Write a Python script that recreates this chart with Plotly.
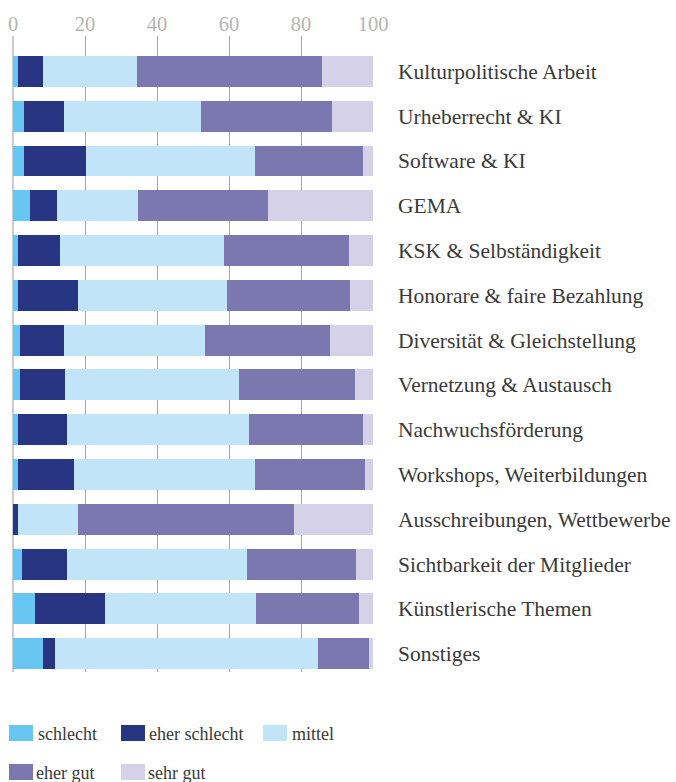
import plotly.graph_objects as go

categories = [
    "Kulturpolitische Arbeit", "Urheberrecht & KI", "Software & KI", "GEMA",
    "KSK & Selbständigkeit", "Honorare & faire Bezahlung", "Diversität & Gleichstellung",
    "Vernetzung & Austausch", "Nachwuchsförderung", "Workshops, Weiterbildungen",
    "Ausschreibungen, Wettbewerbe", "Sichtbarkeit der Mitglieder",
    "Künstlerische Themen", "Sonstiges",
]
schlecht = [1.4, 3.1, 3.1, 4.8, 1.5, 1.5, 2.0, 2.0, 1.5, 1.5, 0.0, 2.6, 6.2, 8.4]
eher_schlecht = [7.0, 11.1, 17.2, 7.5, 11.6, 16.6, 12.2, 12.5, 13.6, 15.5, 1.5, 12.5, 19.4, 3.3]
mittel = [26.1, 38.0, 46.9, 22.5, 45.5, 41.3, 39.1, 48.2, 50.5, 50.2, 16.6, 49.9, 41.9, 72.9]
eher_gut = [51.3, 36.3, 29.9, 36.0, 34.7, 34.1, 34.7, 32.4, 31.6, 30.5, 59.9, 30.2, 28.6, 14.4]
sehr_gut = [14.2, 11.5, 2.9, 29.2, 6.7, 6.5, 12.0, 4.9, 2.8, 2.3, 22.0, 4.8, 3.9, 1.0]
x_ticks = [0, 20, 40, 60, 80, 100]

series_names = ["schlecht", "eher schlecht", "mittel", "eher gut", "sehr gut"]
series_values = [schlecht, eher_schlecht, mittel, eher_gut, sehr_gut]
colors = ["#67c7f2", "#283583", "#c2e4f8", "#7b78b0", "#d5d1e8"]

FONT = "Liberation Serif"
W, H = 676, 782
ML, MR, MT, MB = 13, 303, 36, 110
PW, PH = W - ML - MR, H - MT - MB

fig = go.Figure()
for name, vals, col in zip(series_names, series_values, colors):
    fig.add_trace(go.Bar(
        y=categories, x=vals, name=name, orientation="h",
        marker=dict(color=col, line=dict(width=0)), width=0.69,
        showlegend=False,
    ))

# custom legend (grid of swatches + labels)
legend_pos = [
    (9, 725, 37), (121, 725, 148), (263, 725, 291),
    (9, 764, 35), (121, 764, 147),
]
shapes = []
annotations = []
for (sx, sy, tx), name, col in zip(legend_pos, series_names, colors):
    x0 = (sx - ML) / PW
    x1 = (sx + 24 - ML) / PW
    ytop = (H - MB - sy) / PH
    ybot = (H - MB - sy - 16) / PH
    shapes.append(dict(type="rect", xref="paper", yref="paper", x0=x0, x1=x1,
                       y0=ybot, y1=ytop, fillcolor=col, line=dict(width=0)))
    annotations.append(dict(xref="paper", yref="paper", x=(tx - ML) / PW,
                            y=(H - MB - sy - 8) / PH, text=name, showarrow=False,
                            xanchor="left", yanchor="middle", xshift=-1, yshift=-1,
                            font=dict(family=FONT, size=18, color="#3a3a3a")))

fig.update_layout(
    template="none",
    barmode="stack",
    width=W, height=H,
    margin=dict(l=ML, r=MR, t=MT, b=MB, pad=0),
    paper_bgcolor="white", plot_bgcolor="white",
    font=dict(family=FONT, size=20, color="#3a3a3a"),
    shapes=shapes, annotations=annotations,
    xaxis=dict(side="top", range=[0, 100], tickvals=x_ticks, automargin=False,
               showgrid=True, gridcolor="#aaaaaa", gridwidth=1,
               zeroline=True, zerolinecolor="#cccccc", zerolinewidth=2,
               showline=False, ticks="",
               tickfont=dict(family=FONT, size=20.5, color="#b5b5b5")),
    yaxis=dict(side="right", autorange=False, range=[13.41, -0.79], automargin=False,
               showgrid=False, zeroline=False, showline=False, ticks="",
               ticklabelstandoff=24,
               tickfont=dict(family=FONT, size=21.5, color="#3a3a3a")),
)

fig.write_html(
    "out.html",
    config={"displayModeBar": False},
    post_script="document.body.style.margin='0';document.body.style.overflow='hidden';",
)
